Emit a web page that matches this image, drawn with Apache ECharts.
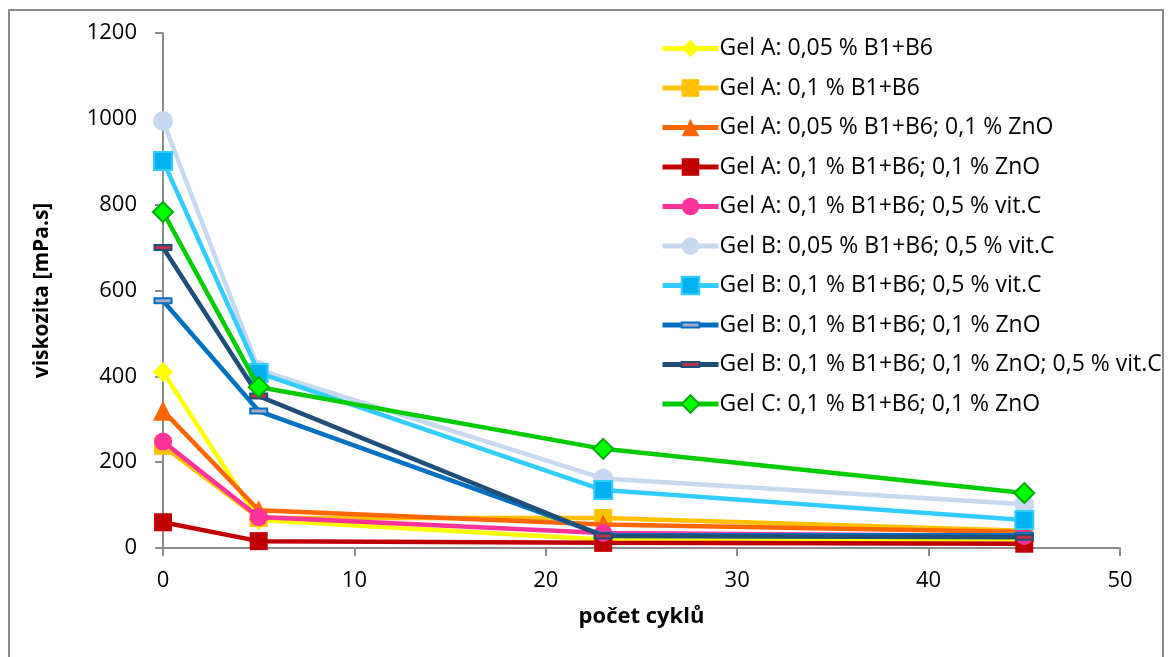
<!DOCTYPE html>
<html>
  <head>
    <meta charset="utf-8" />
    <title>Viskozita</title>
    <script src="https://cdn.jsdelivr.net/npm/echarts@6.0.0/dist/echarts.min.js"></script>
  </head>
  <body style="margin: 0; padding: 0; border: 0; background: #fff">
    <div id="main" style="width: 1172px; height: 657px"></div>
    <script type="text/javascript">
      // pocet cyklu
      var cycles = [0, 5, 23, 45];

      var names = [
        "Gel A: 0,05 % B1+B6",
        "Gel A: 0,1 % B1+B6",
        "Gel A: 0,05 % B1+B6; 0,1 % ZnO",
        "Gel A: 0,1 % B1+B6; 0,1 % ZnO",
        "Gel A: 0,1 % B1+B6; 0,5 % vit.C",
        "Gel B: 0,05 % B1+B6; 0,5 % vit.C",
        "Gel B: 0,1 % B1+B6; 0,5 % vit.C",
        "Gel B: 0,1 % B1+B6; 0,1 % ZnO",
        "Gel B: 0,1 % B1+B6; 0,1 % ZnO; 0,5 % vit.C",
        "Gel C: 0,1 % B1+B6; 0,1 % ZnO",
      ];

      // viskozita [mPa.s]
      var gelA_005 = [410, 65, 20, 20];
      var gelA_01 = [238, 70, 70, 40];
      var gelA_005_zno = [320, 88, 55, 37];
      var gelA_01_zno = [60, 16, 12, 10];
      var gelA_01_vitc = [248, 72, 35, 28];
      var gelB_005_vitc = [995, 415, 162, 102];
      var gelB_01_vitc = [902, 408, 135, 65];
      var gelB_01_zno = [576, 319, 30, 30];
      var gelB_01_zno_vitc = [700, 354, 28, 25];
      var gelC_01_zno = [783, 375, 231, 128];

      var values = [
        gelA_005, gelA_01, gelA_005_zno, gelA_01_zno, gelA_01_vitc,
        gelB_005_vitc, gelB_01_vitc, gelB_01_zno, gelB_01_zno_vitc, gelC_01_zno,
      ];

      // flat dash marker inside a square box, so the legend keeps it flat too
      var dash = "path://M0,0 M17,17 M0,6 h17 v5 h-17 z";
      var lineColors = ["#FFFF00", "#FFC000", "#FF6600", "#C00000", "#FF3399",
        "#C6D9F1", "#33CCFF", "#0070C0", "#1F4E79", "#00CC00"];
      var markColors = ["#FFFF00", "#FFC000", "#FF6600", "#C00000", "#FF3399",
        "#C6D9F1", "#00B0F0", "#A9A9C8", "#C0304A", "#00FF00"];
      var markBorders = [null, null, null, null, null,
        null, "#33CCFF", "#0070C0", "#1F4E79", "#00AA00"];
      var symbols = ["diamond", "rect", "triangle", "rect", "circle",
        "circle", "rect", dash, dash, "diamond"];
      var sizes = [20, 18, 20, 18, 18, 20, 18, 17, 17, 20];

      var font = "'Open Sans', 'DejaVu Sans', sans-serif";

      var series = names.map(function (n, i) {
        return {
          name: n,
          type: "line",
          data: cycles.map(function (c, j) { return [c, values[i][j]]; }),
          symbol: symbols[i],
          symbolSize: sizes[i],
          showAllSymbol: true,
          lineStyle: { color: lineColors[i], width: 4.5 },
          itemStyle: {
            color: markColors[i],
            borderColor: markBorders[i] || markColors[i],
            borderWidth: markBorders[i] ? 2 : 0,
          },
          z: 2 + i,
          animation: false,
        };
      });

      var myChart = echarts.init(document.getElementById("main"));
      myChart.setOption({
        backgroundColor: "#fff",
        textStyle: { fontFamily: font },
        graphic: [
          {
            type: "rect",
            shape: { x: 9, y: 10, width: 1154, height: 660 },
            style: { fill: "none", stroke: "#8c8c8c", lineWidth: 2 },
            silent: true,
          },
        ],
        grid: { left: 163, right: 52, top: 33, bottom: 109 },
        legend: {
          orient: "vertical",
          left: 655,
          top: 32,
          itemWidth: 56,
          itemHeight: 22,
          itemGap: 16.5,
          data: names,
          lineStyle: { width: 5 },
          textStyle: {
            fontSize: 23, color: "#000",
            fontFamily: font, padding: [0, 0, 0, -4],
          },
        },
        xAxis: {
          type: "value",
          min: 0,
          max: 50,
          interval: 10,
          name: "počet cyklů",
          nameLocation: "middle",
          nameGap: 58,
          nameTextStyle: { fontSize: 22, fontWeight: "bold", color: "#000" },
          axisLine: { onZero: false, lineStyle: { color: "#8c8c8c", width: 2 } },
          axisTick: { show: true, length: 8, lineStyle: { color: "#8c8c8c", width: 2 } },
          axisLabel: { fontSize: 22, color: "#000", margin: 22 },
          splitLine: { show: false },
        },
        yAxis: {
          type: "value",
          min: 0,
          max: 1200,
          interval: 200,
          name: "viskozita [mPa.s]",
          nameLocation: "middle",
          nameGap: 110,
          nameTextStyle: { fontSize: 21, fontWeight: "bold", color: "#000" },
          axisLine: { show: true, lineStyle: { color: "#8c8c8c", width: 2 } },
          axisTick: { show: true, length: 8, lineStyle: { color: "#8c8c8c", width: 2 } },
          axisLabel: {
            fontSize: 22, color: "#000", margin: 26,
            formatter: function (v) { return String(v); },
          },
          splitLine: { show: false },
        },
        series: series,
      });
    </script>
  </body>
</html>
